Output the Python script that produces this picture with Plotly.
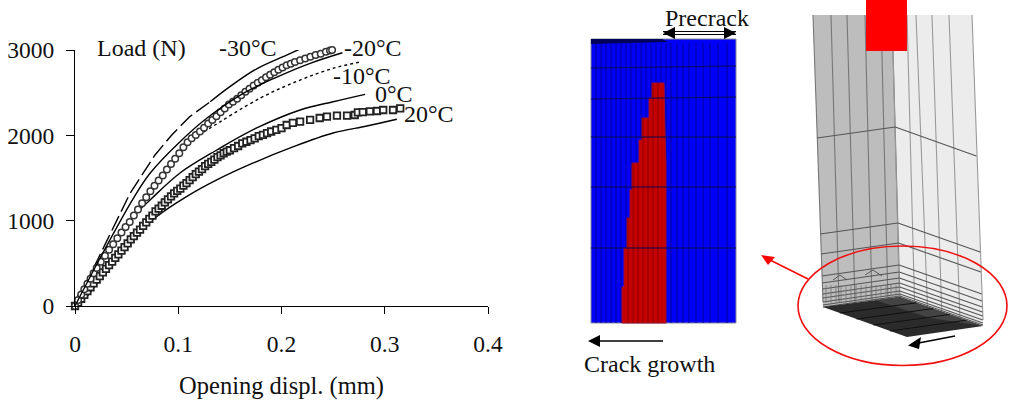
import plotly.graph_objects as go

W, H = 1012, 401
SERIF = "Liberation Serif"

# ---- chart data (opening displacement in mm, load in N)
x_ticks = [0, 0.1, 0.2, 0.3, 0.4]
x_tick_labels = ["0", "0.1", "0.2", "0.3", "0.4"]
y_ticks = [0, 1000, 2000, 3000]

m30_dash_x = [0, 0.0275, 0.0388, 0.0533, 0.0598, 0.0775, 0.0937, 0.111, 0.131]
m30_dash_y = [0, 680, 970, 1320, 1441, 1770, 2004, 2218, 2394]
m30_solid_x = [0.131, 0.150, 0.176, 0.205, 0.2229]
m30_solid_y = [2394, 2570, 2780, 2941, 3039]

m20_x = [0, 0.0242, 0.0565, 0.0727, 0.1017, 0.1276, 0.163, 0.195, 0.2277, 0.259]
m20_y = [0, 560, 1262, 1556, 1925, 2200, 2492, 2680, 2844, 2968]

m10_x = [0.125, 0.131, 0.179, 0.218, 0.25, 0.2778]
m10_y = [2040, 2086, 2434, 2648, 2785, 2863]

t0_x = [0, 0.0242, 0.0562, 0.0727, 0.1017, 0.1373, 0.176, 0.218, 0.25, 0.281]
t0_y = [0, 504, 1046, 1242, 1559, 1828, 2086, 2297, 2394, 2480]

t20_x = [0, 0.0113, 0.05, 0.079, 0.108, 0.1373, 0.1727, 0.2116, 0.25, 0.2826, 0.3117]
t20_y = [0, 109, 738, 1046, 1281, 1477, 1676, 1867, 2027, 2109, 2188]

circ_x = [0,.003,.006,.009,.012,.015,.018,.021,.025,.029,.033,.037,.041,.045,.049,.053,.057,.061,.065,.069,.073,.077,.081,.085,.089,.093,.097,.101,.105,.109,.113,.117,.121,.125,.129,.133,.137,.141,.145,.149,.153,.157,.161,.165,.169,.173,.177,.181,.185,.189,.193,.197,.201,.205,.209,.213,.218,.223,.228,.233,.238,.243,.247,.249]
circ_y = [0,70,135,195,260,320,385,445,520,590,660,725,795,860,925,985,1060,1130,1205,1275,1345,1410,1470,1530,1600,1665,1725,1790,1860,1920,1965,2005,2045,2090,2140,2180,2225,2270,2315,2360,2395,2430,2470,2510,2545,2585,2615,2645,2680,2710,2740,2770,2795,2820,2840,2860,2880,2900,2920,2940,2955,2980,2995,3000]

sq_x = [0,.003,.006,.009,.012,.015,.018,.021,.024,.027,.030,.033,.036,.039,.042,.045,.048,.051,.054,.057,.060,.063,.066,.069,.072,.075,.078,.081,.084,.087,.090,.093,.096,.099,.102,.105,.108,.111,.114,.117,.120,.123,.126,.129,.132,.135,.138,.141,.144,.147,.150,.154,.158,.162,.166,.170,.174,.178,.182,.186,.190,.195,.200,.205,.211,.218,.2277,.237,.244,.2537,.2635,.271,.274,.2787,.2856,.2925,.2985,.308,.315]
sq_y = [0,40,85,130,175,220,265,310,350,395,435,480,520,565,605,650,690,735,780,820,860,895,940,980,1020,1060,1110,1140,1175,1215,1250,1285,1320,1350,1375,1410,1440,1475,1510,1545,1575,1605,1640,1665,1690,1715,1745,1765,1790,1810,1825,1850,1875,1905,1925,1945,1965,1990,2005,2025,2045,2065,2085,2121,2145,2160,2180,2203,2220,2230,2232,2238,2268,2273,2280,2285,2297,2297,2317]
assert len(circ_x) == len(circ_y) and len(sq_x) == len(sq_y)

# ---- diagram geometry (page pixels)
blue_x = [591, 736, 736, 591]
blue_y = [39, 39, 323, 323]
mesh_v_x = [596, 601, 606, 611, 616, 621, 626, 631, 636, 641, 646, 651, 656, 661, 666, 671, 677, 683, 689, 696, 703, 710, 718, 727]
mesh_h_y = [68, 99, 137, 187, 248]
navy_x = [591, 662, 668, 591]
navy_y = [39, 39, 42, 44]
red_x = [652, 664, 665, 666, 666, 622, 622, 624, 624, 627, 627, 630, 630, 632, 632, 639, 639, 642, 642, 649, 649, 652]
red_y = [83, 83, 130, 163, 323, 323, 287, 287, 248, 248, 218, 218, 190, 190, 163, 163, 140, 140, 118, 118, 98, 98]
red_v_x = [628, 633, 638, 643, 648, 653, 658]
red_v_top = [218, 163, 163, 118, 118, 83, 83]

left_face_x = [813, 892, 900, 823]
left_face_y = [15, 15, 297, 307]
right_face_x = [892, 972, 983, 900]
right_face_y = [15, 15, 326, 297]
bottom_face_x = [823, 900, 983, 907]
bottom_face_y = [307, 297, 326, 337]
patch_x = [875, 900, 983, 930]
patch_y = [300, 297, 326, 318]
left_v_top = [813, 831, 847, 865, 881, 892]
left_v_bot = [823, 839, 855, 872, 888, 900]
right_v_top = [892, 907, 916, 932, 949, 972]
right_v_bot = [900, 915, 928, 942, 960, 983]
corner_y = [127, 223, 243, 265, 272, 278, 283, 287, 291, 294, 296]
fine_x = [826, 831, 836, 841, 846, 851, 856, 861, 866, 871, 876, 881, 886, 891, 896]
arch_x = [[833, 840, 847], [865, 873, 882]]
arch_y = [[280, 275, 280], [275, 270, 276]]

red_block_x = [866, 907, 907, 866]
red_block_y = [0, 0, 51, 51]


def closed(seq):
    return list(seq) + [seq[0]]


fig = go.Figure()


def over(x, y, **kw):
    fig.add_trace(go.Scatter(x=x, y=y, xaxis="x2", yaxis="y2", hoverinfo="skip",
                             showlegend=False, **kw))


def poly(x, y, fill, line=None):
    over(closed(x), closed(y), mode="lines", fill="toself", fillcolor=fill,
         line=dict(color=line or fill, width=1 if line else 0))


def segs(pairs, color, width):
    xs, ys = [], []
    for (a, b, c, d) in pairs:
        xs += [a, c, None]
        ys += [b, d, None]
    over(xs, ys, mode="lines", line=dict(color=color, width=width))


def lerp(a, b, t):
    return a + (b - a) * t


# left panel: blue mesh
poly(blue_x, blue_y, "#0000f8", "#8a8a9a")
segs([(x, 43, x, 323) for x in mesh_v_x], "#00009a", 1)
poly(navy_x, navy_y, "#00005a")
poly(red_x, red_y, "#c40000", "#a01030")
segs([(x, t, x, 323) for x, t in zip(red_v_x, red_v_top)], "#8e0000", 1)
segs([(591, y, 736, y - (2 if y < 100 else 0)) for y in mesh_h_y], "#0a0a50", 1.2)

# right panel: block
poly(left_face_x, left_face_y, "#bdbdbd")
poly(right_face_x, right_face_y, "#ececec")
segs([(a, 15, b, 297 + (i < 6) * 5) for i, (a, b) in enumerate(zip(left_v_top, left_v_bot))], "#777777", 1.1)
segs([(a, 15, b, 320) for a, b in zip(right_v_top, right_v_bot)], "#9a9a9a", 1.1)
chev = []
for c in corner_y:
    t = (c - 15) / 282
    chev.append((lerp(813, 823, t), c + 11 + t * 0, lerp(892, 900, t), c))
    chev.append((lerp(892, 900, t), c, lerp(972, 983, t), c + 29))
segs(chev, "#555555", 1.1)
segs([(x, 285, x, 303) for x in fine_x], "#777777", 0.8)
for ax, ay in zip(arch_x, arch_y):
    over(ax, ay, mode="lines", line=dict(color="#555555", width=1))
poly(bottom_face_x, bottom_face_y, "#2b2b2b")
poly(patch_x, patch_y, "#444444")
hatch = []
for t in (0.2, 0.4, 0.6, 0.8):
    hatch.append((lerp(823, 907, t), lerp(307, 337, t), lerp(900, 983, t), lerp(297, 326, t)))
segs(hatch, "#111111", 1)
poly(red_block_x, red_block_y, "#ff0000")

# arrows
segs([(663, 31.5, 736, 31.5), (663, 34.5, 736, 34.5)], "#000000", 1)
poly([663, 675, 675], [33, 27, 39], "#000000")
poly([736, 724, 724], [33, 27, 39], "#000000")
segs([(600, 341, 663, 341)], "#000000", 1.5)
poly([588, 600, 600], [341, 335, 347], "#000000")
segs([(916, 343.5, 955, 336)], "#000000", 1.6)
poly([908, 921, 919], [345.5, 337, 349], "#000000")
segs([(770, 260, 808, 279)], "#ff0000", 1.5)
poly([761, 775, 768], [255, 257, 265], "#ff0000")

# chart curves
LINE = dict(color="#000000", width=1.4)
fig.add_trace(go.Scatter(x=m30_dash_x, y=m30_dash_y, mode="lines", line=dict(color="#000000", width=1.4, dash="16px,5px"), showlegend=False))
fig.add_trace(go.Scatter(x=m30_solid_x, y=m30_solid_y, mode="lines", line=LINE, line_shape="spline", showlegend=False))
fig.add_trace(go.Scatter(x=t0_x, y=t0_y, mode="lines", line=LINE, line_shape="spline", showlegend=False))
fig.add_trace(go.Scatter(x=t20_x, y=t20_y, mode="lines", line=LINE, line_shape="spline", showlegend=False))
fig.add_trace(go.Scatter(x=sq_x, y=sq_y, mode="markers", cliponaxis=False, showlegend=False,
                         marker=dict(symbol="square", size=6.5, color="white", line=dict(color="#222222", width=1.8))))
fig.add_trace(go.Scatter(x=m10_x, y=m10_y, mode="lines", line=dict(color="#000000", width=1.4, dash="3px,3px"), line_shape="spline", showlegend=False))
fig.add_trace(go.Scatter(x=circ_x, y=circ_y, mode="markers", cliponaxis=False, showlegend=False,
                         marker=dict(symbol="circle", size=6.5, color="white", line=dict(color="#333333", width=1.5))))
fig.add_trace(go.Scatter(x=m20_x, y=m20_y, mode="lines", line=LINE, line_shape="spline", showlegend=False))

# labels (page pixels)
labels = [
    ("Load (N)", 141, 48), ("-30°C", 248, 48), ("-20°C", 373, 48), ("-10°C", 362, 76),
    ("0°C", 394, 94), ("20°C", 429, 114), ("Precrack", 707, 18), ("Crack growth", 649, 364),
]
annotations = [dict(text=t, x=x, y=y, xref="x2", yref="y2", showarrow=False,
                    xanchor="center", yanchor="middle", font=dict(family=SERIF, size=24, color="#111111"))
               for t, x, y in labels]

ellipse = dict(type="circle", xref="x2", yref="y2", x0=798, x1=1007, y0=246, y1=365.5,
               line=dict(color="#f01010", width=1.6), fillcolor="rgba(0,0,0,0)")

fig.update_layout(
    width=W, height=H, margin=dict(l=0, r=0, t=0, b=0), paper_bgcolor="white", plot_bgcolor="rgba(0,0,0,0)",
    showlegend=False, annotations=annotations, shapes=[ellipse],
    font=dict(family=SERIF, size=24, color="#111111"),
    xaxis=dict(domain=[75 / W, 488 / W], range=[0, 0.4], anchor="y", tickvals=x_ticks, ticktext=x_tick_labels,
               ticks="outside", ticklen=7, tickwidth=1.3, tickcolor="black", showline=True, linecolor="black",
               linewidth=1.3, showgrid=False, zeroline=False, ticklabelstandoff=10, automargin=False,
               tickfont=dict(family=SERIF, size=23.5, color="#111111"),
               title=dict(text="Opening displ. (mm)", standoff=20, font=dict(family=SERIF, size=24.5, color="#111111"))),
    yaxis=dict(domain=[(H - 306) / H, (H - 50) / H], range=[0, 3000], anchor="x", tickvals=y_ticks,
               ticks="outside", ticklen=8, tickwidth=1.3, tickcolor="black", showline=True, linecolor="black",
               linewidth=1.3, showgrid=False, zeroline=False, ticklabelstandoff=7, automargin=False,
               tickfont=dict(family=SERIF, size=23.5, color="#111111")),
    xaxis2=dict(domain=[0, 1], range=[0, W], anchor="y2", visible=False, fixedrange=True),
    yaxis2=dict(domain=[0, 1], range=[H, 0], anchor="x2", visible=False, fixedrange=True),
)
fig.write_html("out.html", post_script="document.body.style.margin='0';", config=dict(displayModeBar=False))
